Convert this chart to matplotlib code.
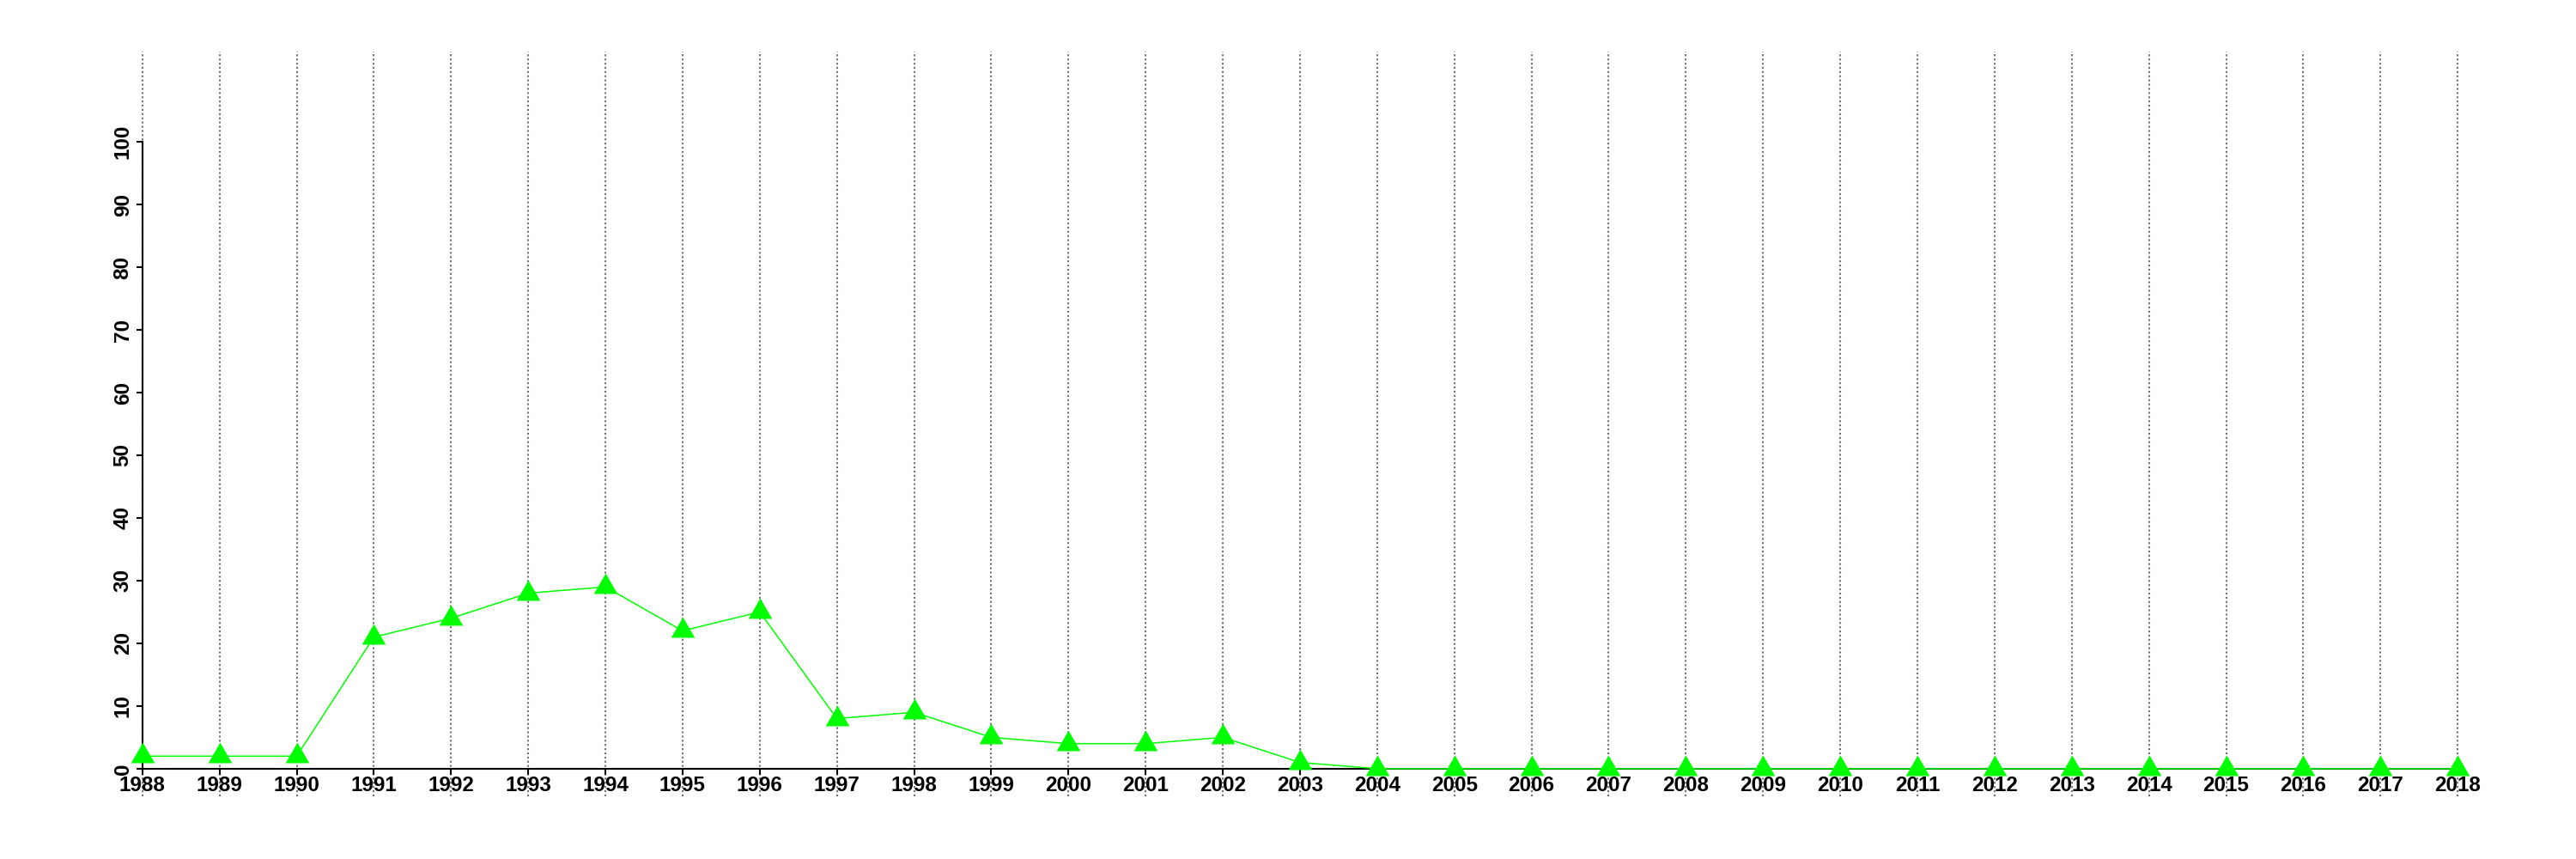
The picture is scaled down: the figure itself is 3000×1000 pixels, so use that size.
import numpy as np
import matplotlib
matplotlib.use('Agg')
import matplotlib.pyplot as plt

# values
years = list(range(1988, 2019))
values = [2, 2, 2, 21, 24, 28, 29, 22, 25, 8, 9, 5, 4, 4, 5, 1,
          0, 0, 0, 0, 0, 0, 0, 0, 0, 0, 0, 0, 0, 0, 0]
yticks = list(range(0, 101, 10))

plt.rcParams['font.family'] = ['Liberation Sans', 'DejaVu Sans']
plt.rcParams['font.weight'] = 'bold'

fig = plt.figure(figsize=(30, 10), dpi=100)
ax = fig.add_axes([0.0193, 0.073, 0.9707, 0.867])

# equilateral triangle, like R's pch 17
tri = [(0, 1.155), (-1, -0.577), (1, -0.577), (0, 1.155)]

# dotted vertical grid at every year
for yr in years:
    ax.axvline(yr, color='#707070', lw=1.5, ls=(0, (1.0, 1.35)), zorder=1)

ax.plot(years, values, color='#00ff00', lw=1.1, marker=tri, ms=23,
        markeredgewidth=0, zorder=3, clip_on=False)

ax.set_xlim(1986.8, 2019.2)
ax.set_ylim(-4.4, 114.4)
ax.set_xticks(years)
ax.set_xticklabels([str(y) for y in years])
ax.set_yticks(yticks)
ax.set_yticklabels([str(v) for v in yticks])

for s in ['top', 'right']:
    ax.spines[s].set_visible(False)
ax.spines['left'].set_bounds(0, 100)
ax.spines['bottom'].set_bounds(1988, 2018)
ax.spines['left'].set_position(('data', 1988))
ax.spines['bottom'].set_position(('data', 0))
for s in ['left', 'bottom']:
    ax.spines[s].set_linewidth(1.5)
    ax.spines[s].set_zorder(2)

ax.tick_params(axis='both', length=5, width=1.5, labelsize=17.5)
ax.tick_params(axis='x', pad=1)
ax.tick_params(axis='y', pad=3, labelrotation=90)
for lab in ax.get_yticklabels():
    lab.set_verticalalignment('center')

fig.savefig('out.png', dpi=100)
